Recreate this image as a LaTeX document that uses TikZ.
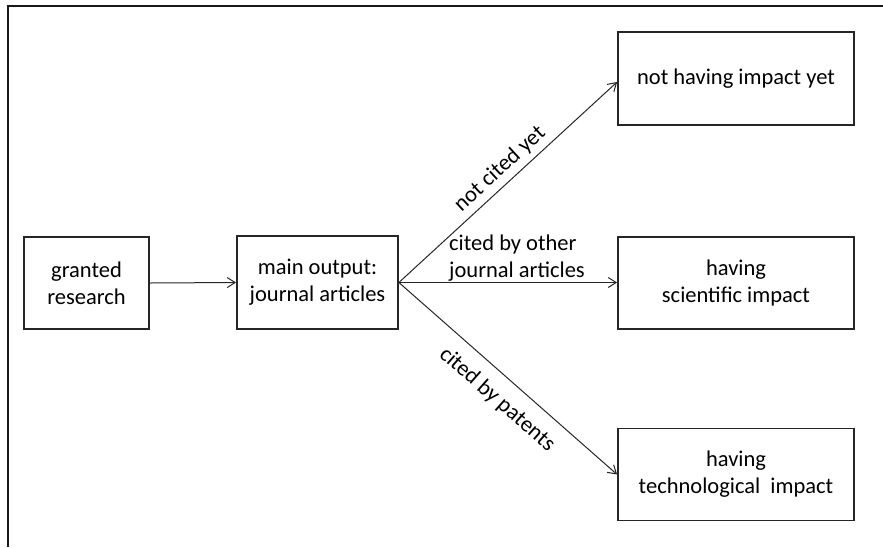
\documentclass[tikz,border=0pt]{standalone}
\usepackage{fontspec}
\setmainfont{Carlito}
\usetikzlibrary{arrows.meta}
\tikzset{
  box/.style={draw=black!85, line width=1.8pt, align=center, inner sep=0pt,
    font=\fontsize{22.5}{27}\selectfont},
  flow/.style={draw=black!85, line width=1pt, -{Straight Barb[length=8pt,width=10pt]}},
  lbl/.style={font=\fontsize{22.5}{27}\selectfont, inner sep=0pt},
  frame/.style={draw=black!90, line width=2pt}
}
\begin{document}
\begin{tikzpicture}[x=1pt, y=-1pt]
  \useasboundingbox (0,0) rectangle (883,547);
  % partial frame: top and left edges
  \coordinate (ftr) at (883,6);
  \coordinate (ftl) at (7.5,6);
  \coordinate (fbl) at (7.5,547);
  \draw[frame] (ftr) -- (ftl) -- (fbl);

  % boxes
  \node[box, minimum width=125pt, minimum height=92pt] (gr) at (86.5,283) {granted\\research};
  \node[box, minimum width=161pt, minimum height=93pt] (mo) at (317.5,282.5) {main output:\\journal articles};
  \node[box, minimum width=236pt, minimum height=93pt] (nh) at (736,78.5) {not having impact yet};
  \node[box, minimum width=236pt, minimum height=92pt] (si) at (736,283) {having\\scientific impact};
  \node[box, minimum width=236pt, minimum height=92pt] (ti) at (736,474.5) {having\\technological~ impact};

  % connectors
  \draw[flow] (gr.east) -- (mo.west);
  \draw[flow] (mo.east) -- ([yshift=-3.5pt]nh.west)
    node[lbl, pos=0.51, sloped, above=5pt] {not cited yet};
  \draw[flow] (mo.east) -- (mo.east -| si.west);
  \draw[flow] (mo.east) -- (ti.west)
    node[lbl, pos=0.52, sloped, below=13pt] {cited by patents};
  \node[lbl, anchor=west, align=left] (cl) at (449,258) {cited by other\\journal articles};
\end{tikzpicture}
\end{document}
